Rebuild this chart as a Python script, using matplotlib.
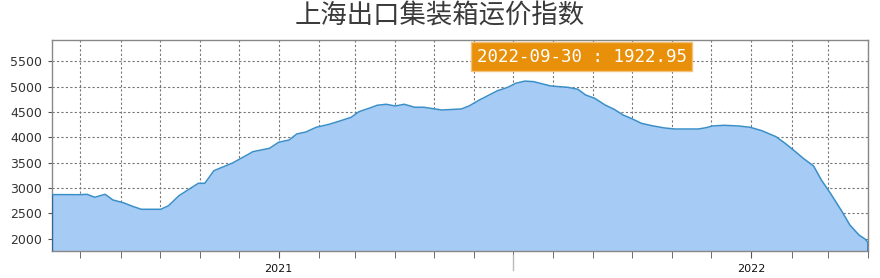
import matplotlib
matplotlib.use("Agg")
import matplotlib.pyplot as plt
import matplotlib.dates as mdates
import pandas as pd

plt.rcParams['font.family'] = ['DejaVu Sans', 'Noto Sans CJK SC']

# Index values, with the dates of the chart's own axis
dates = ["2020-07-10", "2020-08-01", "2020-08-06", "2020-08-12", "2020-08-20",
         "2020-08-26", "2020-09-03", "2020-09-11", "2020-09-17", "2020-10-02",
         "2020-10-08", "2020-10-16", "2020-10-31", "2020-11-05", "2020-11-12",
         "2020-11-26", "2020-12-10", "2020-12-12", "2020-12-25", "2021-01-01",
         "2021-01-09", "2021-01-15", "2021-01-22", "2021-01-30", "2021-02-09",
         "2021-02-18", "2021-02-26", "2021-03-04", "2021-03-13", "2021-03-18",
         "2021-03-25", "2021-04-01", "2021-04-08", "2021-04-16", "2021-04-23",
         "2021-05-07", "2021-05-22", "2021-05-28", "2021-06-05", "2021-06-11",
         "2021-06-19", "2021-06-27", "2021-07-03", "2021-07-10", "2021-07-17",
         "2021-07-24", "2021-07-30", "2021-08-12", "2021-08-20", "2021-08-26",
         "2021-09-02", "2021-09-10", "2021-09-17", "2021-09-24", "2021-09-30",
         "2021-10-08", "2021-10-16", "2021-10-26", "2021-11-03", "2021-11-21",
         "2021-11-27", "2021-12-02", "2021-12-11", "2021-12-22", "2021-12-31",
         "2022-01-09", "2022-01-20", "2022-01-27", "2022-02-04", "2022-02-10",
         "2022-02-18", "2022-02-24", "2022-03-03", "2022-03-12", "2022-03-18",
         "2022-03-25", "2022-03-30", "2022-04-01"]
values = [2870, 2868, 2876, 2817, 2876,
          2764, 2710, 2631, 2580, 2580,
          2651, 2848, 3093, 3093, 3342,
          3488, 3685, 3716, 3784, 3902,
          3947, 4066, 4105, 4198, 4257,
          4328, 4395, 4506, 4584, 4632,
          4652, 4618, 4652, 4593, 4593,
          4539, 4559, 4618, 4737, 4815,
          4920, 4987, 5066, 5109, 5098,
          5052, 5013, 4987, 4948, 4835,
          4770, 4638, 4553, 4440, 4375,
          4277, 4230, 4184, 4164, 4164,
          4190, 4224, 4237, 4224, 4198,
          4131, 4012, 3882, 3716, 3586,
          3434, 3158, 2896, 2533, 2270,
          2073, 1988, 1922.95]

title = "上海出口集装箱运价指数"
last_label = "2022-09-30 : 1922.95"
yticks = [2000, 2500, 3000, 3500, 4000, 4500, 5000, 5500]

x = pd.to_datetime(dates)
ymin, ymax = 1757, 5920

fig = plt.figure(figsize=(8.8, 2.78), dpi=100)
ax = fig.add_axes([52/880, 27/278, 816/880, 211/278])

# Area and outline (closed at both ends like the original)
ax.fill_between(x, values, ymin, color="#a6cbf5", linewidth=0, zorder=2)
ax.plot(x, values, color="#3a8fc8", lw=1.1, zorder=3)
ax.vlines(x[-1], ymin, values[-1], color="#2f7fb8", lw=1.2, zorder=3)
ax.vlines(x[0], ymin, values[0], color="#2a6a9a", lw=1.6, zorder=4)

ax.set_xlim(x[0], x[-1])
ax.set_ylim(ymin, ymax)

# Axes ticks
ax.xaxis.set_major_locator(mdates.YearLocator())
ax.xaxis.set_major_formatter(mdates.DateFormatter("%Y"))
ax.xaxis.set_minor_locator(mdates.MonthLocator())
ax.set_yticks(yticks)
ax.tick_params(axis="y", which="major", length=3, color="#555", labelsize=9,
               labelcolor="#333", pad=4)
ax.tick_params(axis="x", which="both", length=5, color="#555", labelsize=8,
               labelcolor="#111", pad=4)

# Dashed grid
ax.grid(True, which="both", axis="x", color="#777", linestyle=(0, (2, 2)), lw=0.8)
ax.grid(True, which="major", axis="y", color="#777", linestyle=(0, (2, 2)), lw=0.8)
ax.set_axisbelow(True)

for s in ax.spines.values():
    s.set_color("#888")
    s.set_linewidth(1.0)

# Half-year marker below the axis
ax.plot([pd.Timestamp("2021-07-01")] * 2, [-0.02, -0.09], color="#bbb", lw=1,
        transform=ax.get_xaxis_transform(), clip_on=False)

# Last value label
ax.text(0.649, 0.921, last_label, transform=ax.transAxes, ha="center", va="center",
        fontsize=12.5, color="white", family="DejaVu Sans Mono", zorder=5,
        bbox=dict(boxstyle="square,pad=0.3", fc="#e8900a", ec="#f5c07a", lw=1))

fig.text(0.5, 0.945, title, ha="center", va="center", fontsize=19,
         color="#3a3a3a", family="Noto Sans CJK SC", fontweight="normal")

fig.savefig("out.png", dpi=100)
